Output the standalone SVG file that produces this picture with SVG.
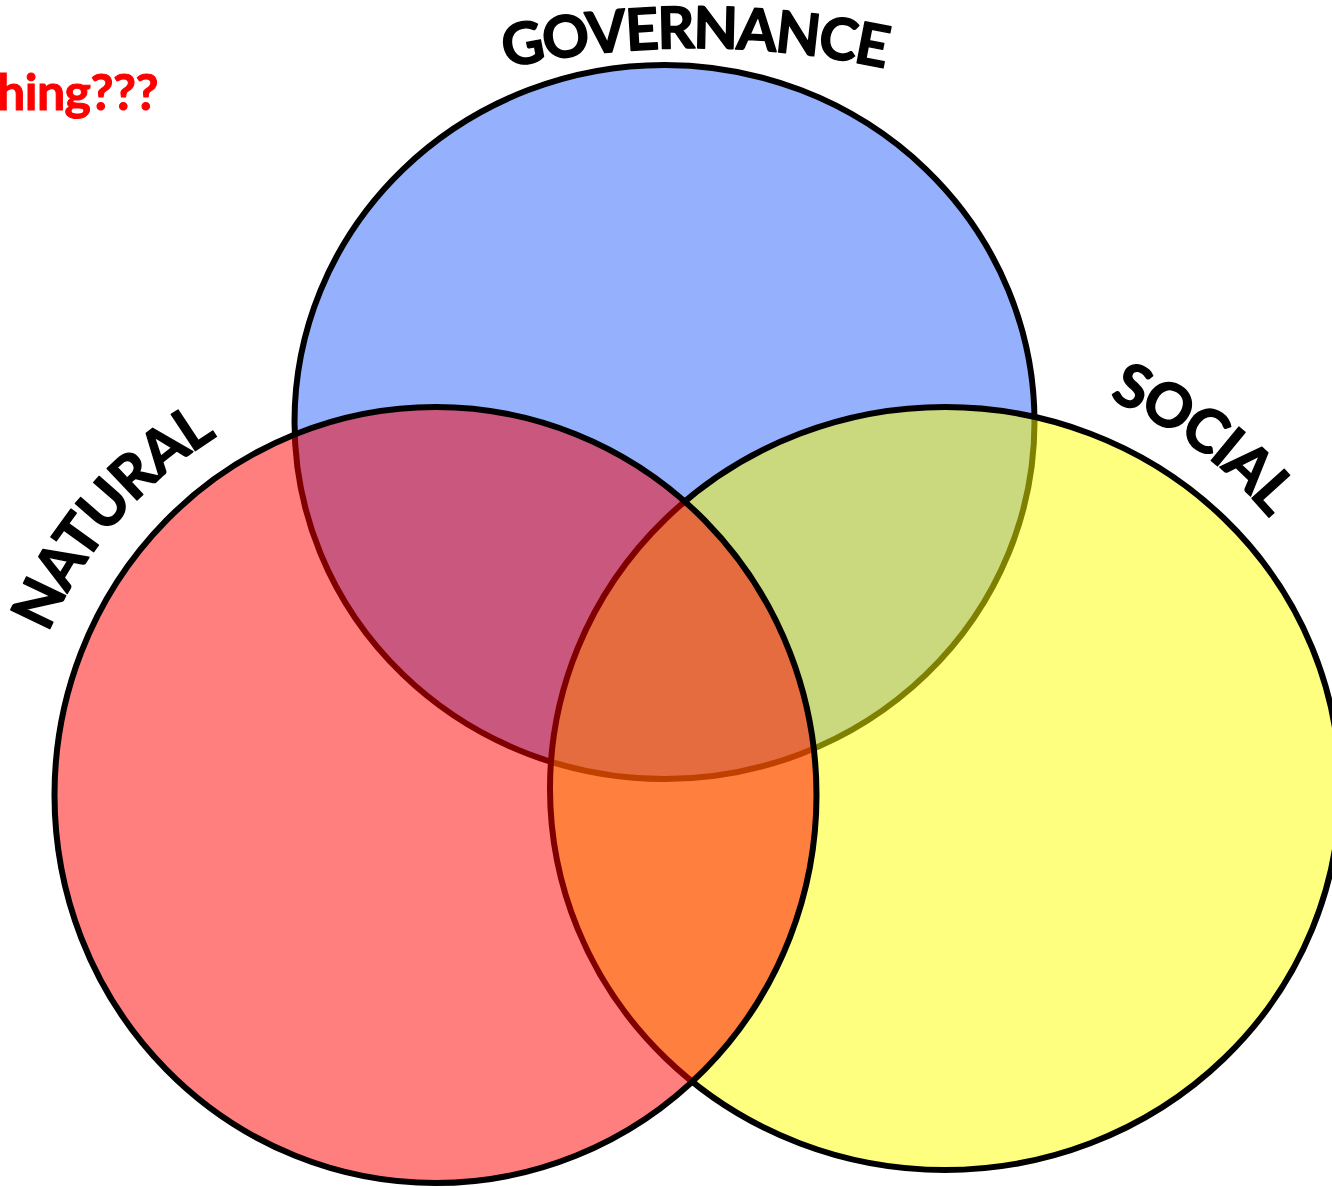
<svg xmlns="http://www.w3.org/2000/svg" width="1332" height="1187" viewBox="0 0 1332 1187">
  <style>
    .ring { stroke: #000; stroke-width: 6; }
    .label { font-family: Lato, "Open Sans", "Liberation Sans", sans-serif; font-weight: 700; fill: #000; stroke: #000; stroke-width: 1.4; stroke-linejoin: round; font-size: 60px; letter-spacing: -2px; }
    .gov { font-size: 58px; letter-spacing: -2px; }
    .note { font-family: Lato, "Open Sans", "Liberation Sans", sans-serif; font-weight: 700; fill: #FF0000; stroke: #FF0000; stroke-width: 1; font-size: 50px; letter-spacing: -0.5px; }
  </style>
  <defs>
    <path id="arcGov" d="M 240 170 A 909 909 0 0 1 1149 170"/>
    <path id="arcNat" d="M 17 824.3 A 420 420 0 0 1 399.4 376.6"/>
    <path id="arcSoc" d="M 881.9 370.7 A 422 422 0 0 1 1362.3 724.9"/>
  </defs>
  <rect width="1332" height="1187" fill="#FFFFFF"/>
  <g id="governance">
    <ellipse class="ring" cx="664.5" cy="422" rx="370" ry="357" fill="#95B1FD"/>
  </g>
  <g id="social">
    <ellipse class="ring" cx="945" cy="788.5" rx="395" ry="381.5" fill="#FFFF00" fill-opacity="0.5"/>
  </g>
  <g id="natural">
    <ellipse class="ring" cx="435.5" cy="795" rx="381" ry="388" fill="#FF0000" fill-opacity="0.5"/>
  </g>
  <g id="connectors"></g>
  <g id="labels">
    <text class="label gov"><textPath href="#arcGov" startOffset="50%" text-anchor="middle">GOVERNANCE</textPath></text>
    <text class="label"><textPath href="#arcNat" startOffset="50%" text-anchor="middle">NATURAL</textPath></text>
    <text class="label"><textPath href="#arcSoc" startOffset="50%" text-anchor="middle">SOCIAL</textPath></text>
    <text class="note" x="158" y="110" text-anchor="end">hing???</text>
  </g>
</svg>
